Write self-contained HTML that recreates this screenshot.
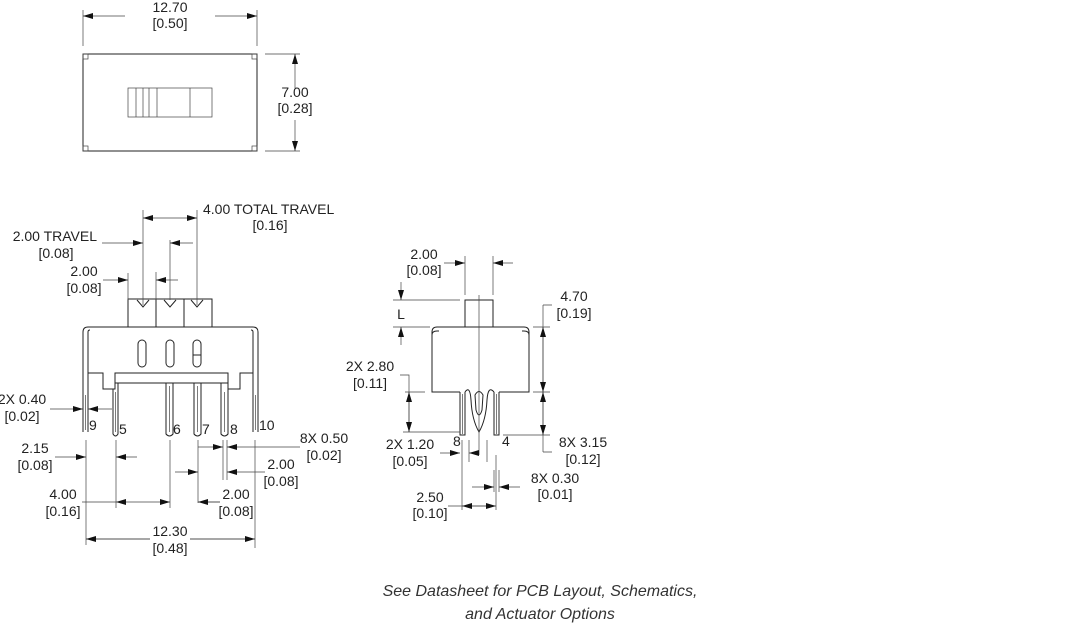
<!DOCTYPE html>
<html><head><meta charset="utf-8"><style>
body{margin:0;background:#fff}
svg{display:block}
text{font-family:"Liberation Sans",sans-serif;font-size:14px;fill:#222}
.l{stroke:#222;stroke-width:1;fill:none}
.t{stroke:#444;stroke-width:0.7;fill:none}
</style></head><body>
<svg width="1080" height="626" viewBox="0 0 1080 626" xmlns="http://www.w3.org/2000/svg">
<defs>
<marker id="a" viewBox="0 0 10 6" refX="10" refY="3" markerWidth="10" markerHeight="6" markerUnits="userSpaceOnUse" orient="auto"><path d="M0,0 L10,3 L0,6 z" fill="#111"/></marker>
</defs>
<g class="t">
<!-- top view -->
<rect x="83" y="54" width="174" height="97" class="l"/>
<rect x="83" y="54" width="5" height="5"/><rect x="252" y="54" width="5" height="5"/>
<rect x="83" y="146" width="5" height="5"/><rect x="252" y="146" width="5" height="5"/>
<rect x="128" y="88" width="84" height="29"/>
<path d="M136 88V117M143 88V117M149 88V117M157 88V117M190 88V117"/>
<path d="M83 10V46M257 10V46M265 54H300M265 151H300"/>
</g>
<g class="t" marker-end="url(#a)">
<path d="M125 16H83"/><path d="M215 16H257"/>
<path d="M295 88V54"/><path d="M295 120V151"/>
</g>
<text x="170" y="12" text-anchor="middle">12.70</text>
<text x="170" y="28" text-anchor="middle">[0.50]</text>
<text x="295" y="97" text-anchor="middle">7.00</text>
<text x="295" y="113" text-anchor="middle">[0.28]</text>

<!-- front view -->
<g class="l">
<path d="M83 432V332Q83 327 88 327H253Q258 327 258 332V432"/>
<path d="M88 432V332Q88 330 90 330"/><path d="M253 432V332Q253 330 251 330"/>
<path d="M88 373H103V389H115V373H228V389H240V373H253"/>
<path d="M115 383H228"/>
<rect x="128" y="299" width="84" height="28"/>
<path d="M156 299V327M184 299V327"/>
<path d="M137 300L143 307L149 300M164 300L170 307L176 300M191 300L197 307L203 300"/>
<rect x="138" y="340" width="8" height="27" rx="4"/>
<rect x="166" y="340" width="8" height="27" rx="4"/>
<rect x="193" y="340" width="8" height="27" rx="4"/>
<path d="M193 355H201"/>
<path d="M113 389V434Q115.5 438 118 434V383"/>
<path d="M166 383V434Q169.5 438 173 434V383"/>
<path d="M194 383V434Q197.5 438 201 434V383"/>
<path d="M221 383V434Q224.5 438 228 434V389"/>
</g>
<g class="t">
<path d="M85.5 395V430M115.5 392V432M169.5 386V432M197.5 386V432M224.5 392V432M255.5 395V430"/>
<path d="M143 210V305M197 210V305M170 240V300M128 273V300M156 272V300"/>
<path d="M86 440V545M116 440V508M170 440V508M198 440V503M223 440V480M227 440V480M255 440V548"/>
<path d="M82 502H116M170 502H170M220 502H198"/>
<path d="M86 539H150M190 539H255"/>
</g>
<g class="t" marker-end="url(#a)">
<path d="M170 218H143"/><path d="M170 218H197"/>
<path d="M102 243H143"/><path d="M193 243H170"/>
<path d="M103 280H128"/><path d="M178 280H156"/>
<path d="M50 409H83"/><path d="M112 409H88"/>
<path d="M55 457H86"/><path d="M137 457H116"/>
<path d="M198 447H223"/><path d="M300 447H227"/>
<path d="M175 472H198"/><path d="M265 472H227"/>
<path d="M140 502H116"/><path d="M140 502H170"/>
<path d="M220 502H198"/>
<path d="M150 539H86"/><path d="M190 539H255"/>
</g>
<text x="203" y="214">4.00 TOTAL TRAVEL</text>
<text x="270" y="230" text-anchor="middle">[0.16]</text>
<text x="97" y="241" text-anchor="end">2.00 TRAVEL</text>
<text x="56" y="258" text-anchor="middle">[0.08]</text>
<text x="84" y="276" text-anchor="middle">2.00</text>
<text x="84" y="293" text-anchor="middle">[0.08]</text>
<text x="22" y="404" text-anchor="middle">2X 0.40</text>
<text x="22" y="421" text-anchor="middle">[0.02]</text>
<text x="89" y="430">9</text><text x="119" y="434">5</text><text x="173" y="434">6</text>
<text x="202" y="434">7</text><text x="230" y="434">8</text><text x="259" y="430">10</text>
<text x="35" y="453" text-anchor="middle">2.15</text>
<text x="35" y="470" text-anchor="middle">[0.08]</text>
<text x="324" y="443" text-anchor="middle">8X 0.50</text>
<text x="324" y="460" text-anchor="middle">[0.02]</text>
<text x="281" y="469" text-anchor="middle">2.00</text>
<text x="281" y="486" text-anchor="middle">[0.08]</text>
<text x="63" y="499" text-anchor="middle">4.00</text>
<text x="63" y="516" text-anchor="middle">[0.16]</text>
<text x="236" y="499" text-anchor="middle">2.00</text>
<text x="236" y="516" text-anchor="middle">[0.08]</text>
<text x="170" y="536" text-anchor="middle">12.30</text>
<text x="170" y="553" text-anchor="middle">[0.48]</text>

<!-- side view -->
<g class="l">
<rect x="465" y="300" width="28" height="27"/>
<path d="M437 327H524Q529 327 529 332V392H499M460 392H432V332Q432 327 437 327"/>
<path d="M432 335Q432 331 437 331H439M529 335Q529 331 524 331H522"/>
<path d="M460 392V435H465V392M494 392V435H499V392"/>
<path d="M465 392Q470 385 471 400Q472 420 479 432Q486 420 487 400Q488 385 494 392"/>
<path d="M475 395Q479 388 483 395L482 410Q479 420 476 410Z"/>
</g>
<g class="t">
<path d="M479 295V455M462.5 394V434M496.5 394V434"/>
<path d="M465 256V295M493 256V295"/>
<path d="M393 300H460M393 327H430"/>
<path d="M533 327H550M533 392H550M503 435H550M543 305H552M543 452H552M543 305V452"/>
<path d="M400 375H409V432M405 392H425M403 432H460"/>
<path d="M462 440V510M469 440V462M487 440V462M496 455V510M494 470V492M499 470V492"/>
<path d="M448 506H494"/>
</g>
<g class="t" marker-end="url(#a)">
<path d="M444 263H465"/><path d="M513 263H493"/>
<path d="M401 282V300"/><path d="M401 345V327"/>
<path d="M543 360V327"/><path d="M543 360V392"/>
<path d="M543 412V392"/><path d="M543 412V435"/>
<path d="M409 412V392"/><path d="M409 412V432"/>
<path d="M440 453H460"/><path d="M478 453H469"/>
<path d="M472 487H494"/><path d="M520 487H499"/>
<path d="M480 506H462"/><path d="M480 506H496"/>
</g>
<text x="424" y="259" text-anchor="middle">2.00</text>
<text x="424" y="275" text-anchor="middle">[0.08]</text>
<text x="401" y="319" text-anchor="middle">L</text>
<text x="574" y="301" text-anchor="middle">4.70</text>
<text x="574" y="318" text-anchor="middle">[0.19]</text>
<text x="370" y="371" text-anchor="middle">2X 2.80</text>
<text x="370" y="388" text-anchor="middle">[0.11]</text>
<text x="453" y="446">8</text><text x="502" y="446">4</text>
<text x="410" y="449" text-anchor="middle">2X 1.20</text>
<text x="410" y="466" text-anchor="middle">[0.05]</text>
<text x="583" y="447" text-anchor="middle">8X 3.15</text>
<text x="583" y="464" text-anchor="middle">[0.12]</text>
<text x="555" y="483" text-anchor="middle">8X 0.30</text>
<text x="555" y="499" text-anchor="middle">[0.01]</text>
<text x="430" y="502" text-anchor="middle">2.50</text>
<text x="430" y="518" text-anchor="middle">[0.10]</text>

<text x="540" y="596" text-anchor="middle" style="font-style:italic;font-size:16px;fill:#333">See Datasheet for PCB Layout, Schematics,</text>
<text x="540" y="619" text-anchor="middle" style="font-style:italic;font-size:16px;fill:#333">and Actuator Options</text>
</svg>
</body></html>
